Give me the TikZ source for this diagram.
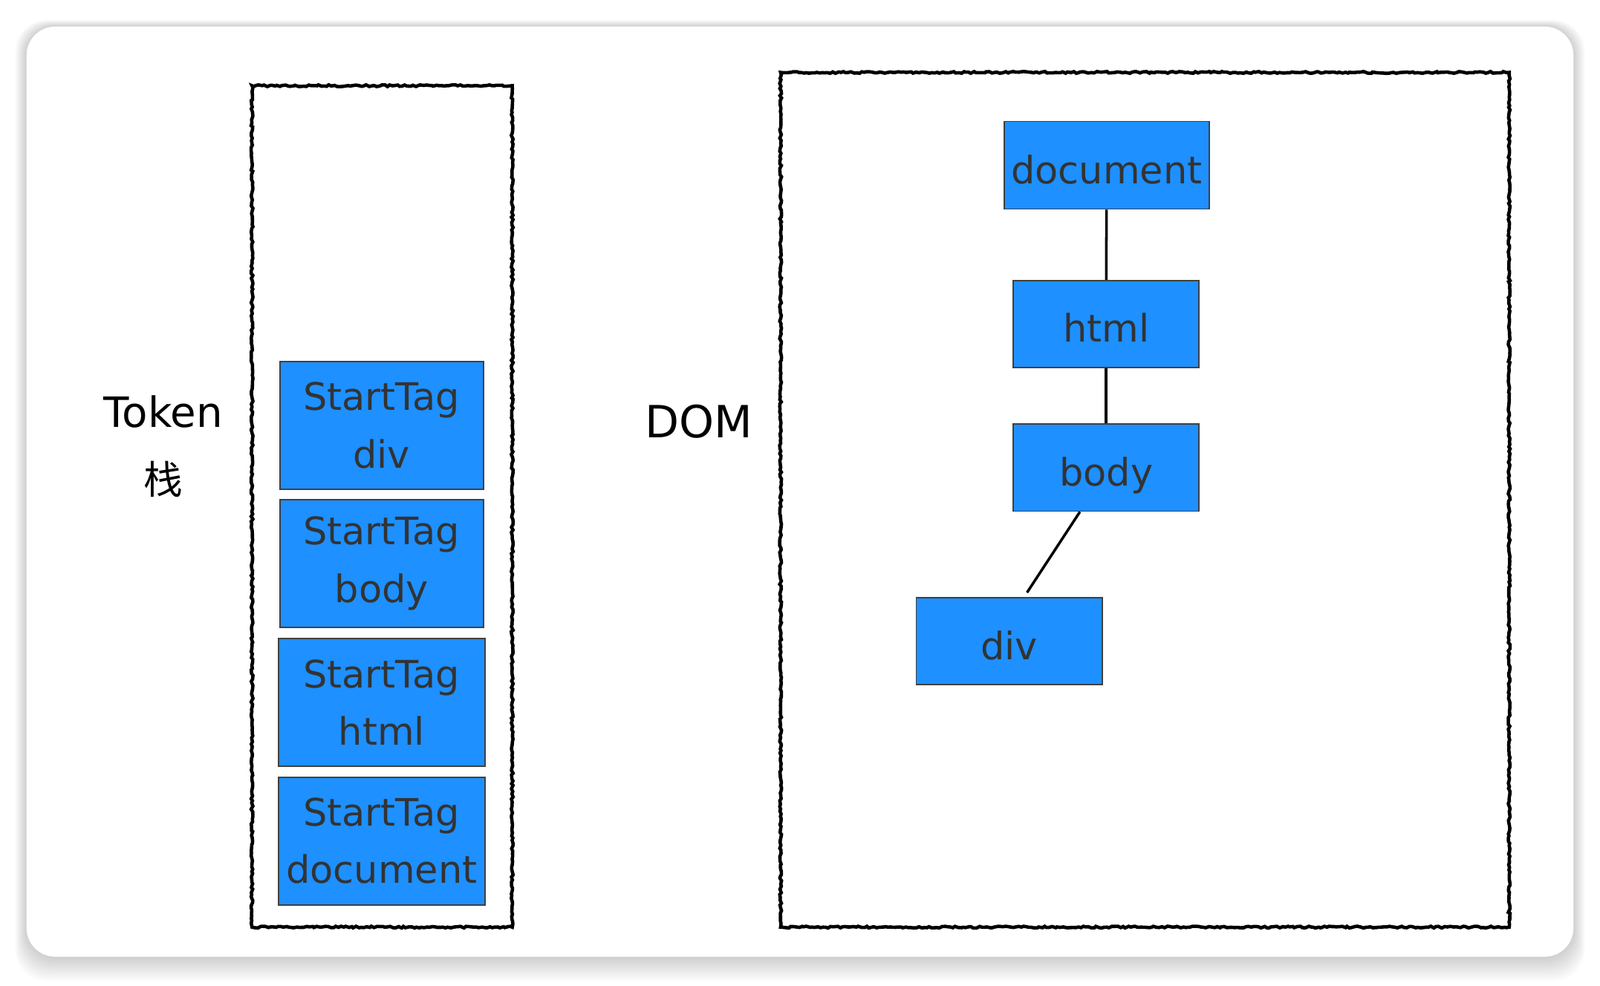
\documentclass[tikz,border=0pt]{standalone}
\usepackage{fontspec}
\setmainfont{DejaVu Sans}
\newfontfamily\cjkfont{Noto Sans CJK SC}
\usetikzlibrary{positioning, calc, decorations.pathmorphing}
\definecolor{tagblue}{RGB}{30,144,255}
\definecolor{tagtext}{RGB}{51,51,51}

\begin{document}
\begin{tikzpicture}[x=0.01374cm, y=-0.01374cm,
    tag/.style={draw=black!75, fill=tagblue, line width=0.5pt, inner sep=0pt,
        text=tagtext, align=center, font=\fontsize{14.5}{22}\selectfont},
    stackbox/.style={tag, minimum width=2.74cm, minimum height=1.72cm},
    treebox/.style={tag, minimum width=2.50cm, minimum height=1.17cm,
        text height=14pt, text depth=0pt},
    rough/.style={line width=1.3pt, decorate,
        decoration={random steps, segment length=1pt, amplitude=0.35pt}},
    label/.style={font=\fontsize{16}{20}\selectfont},
    link/.style={line width=1pt}]
    \useasboundingbox (0,0) rectangle (1568,966);

    % card with a soft shadow
    \foreach \i in {1,...,16}
        \fill[black, opacity=0.012, rounded corners=12pt]
            ({26-0.7*\i}, {26-0.4*\i}) rectangle ({1542+0.7*\i}, {938+1.5*\i});
    \fill[white, rounded corners=11pt] (26,26) rectangle (1542,938);

    % token stack
    \draw[rough] (247,84) rectangle (502,909);
    \node[label] (token) at (160,404) {Token};
    \node[font=\cjkfont\fontsize{15}{18}\selectfont] (zhan) at (160,470) {栈};

    \node[stackbox] (tdiv) at (374,417) {StartTag\\div};
    \node[stackbox] (tbody) at (374,552.5) {StartTag\\body};
    \node[stackbox, minimum width=2.78cm] (thtml) at (374,688.5) {StartTag\\html};
    \node[stackbox, minimum width=2.78cm] (tdoc) at (374,824.5) {StartTag\\document};

    % dom tree
    \draw[rough] (765,71) rectangle (1479,909);
    \node[label, font=\fontsize{17}{20}\selectfont] (dom) at (685,413) {DOM};

    \node[treebox, minimum width=2.76cm, minimum height=1.18cm] (ddoc) at (1084.5,162) {document};
    \node[treebox] (dhtml) at (1084,317.5) {html};
    \node[treebox] (dbody) at (1084,458.5) {body};
    \node[treebox] (ddiv) at (989,628.5) {div};

    \draw[link] (ddoc) -- (dhtml);
    \draw[link] (dhtml) -- (dbody);
    \draw[link, shorten >=2pt] ($(dbody.south west)!0.36!(dbody.south east)$)
        -- ($(ddiv.north west)!0.58!(ddiv.north east)$);

\end{tikzpicture}
\end{document}
